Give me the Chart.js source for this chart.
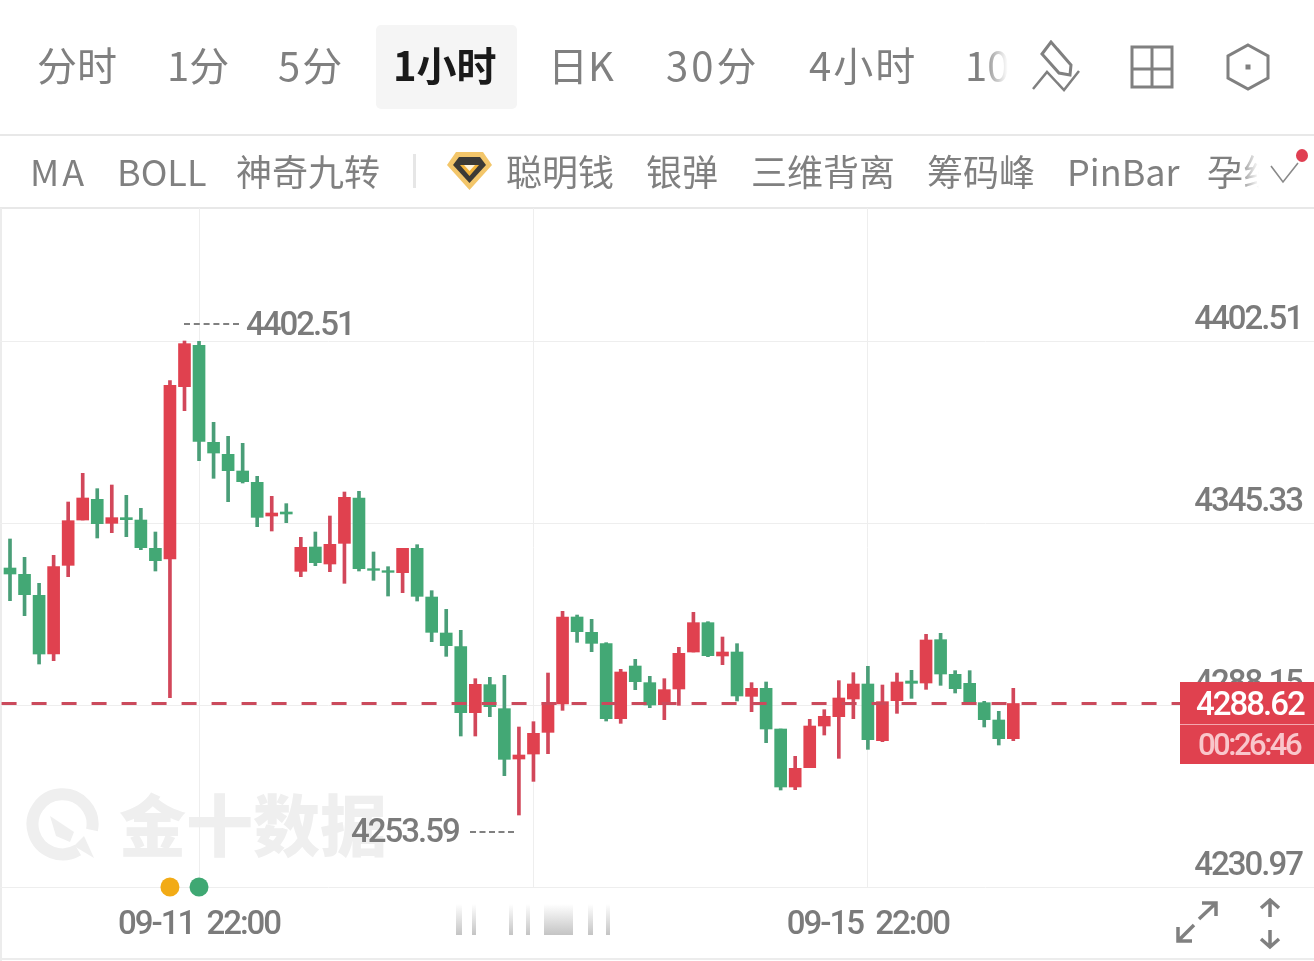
<!DOCTYPE html>
<html>
<head>
<meta charset="utf-8">
<title>1小时</title>
<script src="https://cdn.jsdelivr.net/npm/chart.js@4"></script>
<style>
    html, body { margin: 0; padding: 0; background: #fff; }
    #page { position: relative; width: 1314px; height: 961px; overflow: hidden; font-family: "Noto Sans CJK SC", sans-serif; color: #808080; }
    #page div, #page span, #page svg { position: absolute; }
    #chart { position: absolute; left: 0; top: 0; }
    .tab { top: 34px; font-size: 40px; line-height: 60px; white-space: nowrap; }
    .ind { top: 143px; font-size: 36px; line-height: 54px; white-space: nowrap; }
    .num { font-family: Roboto, sans-serif; font-weight: 500; font-size: 33px; letter-spacing: -2px; line-height: 40px; white-space: nowrap; color: #7b7b7b; }
    .blur { top: 904px; height: 31px; background: linear-gradient(to bottom, #fff, #c4c4c4); }
</style>
</head>
<body>
<div id="page">
    <!-- watermark sits under the canvas -->
    <svg style="left:26px;top:788px" width="76" height="76" viewBox="0 0 76 76">
        <path d="M52 62 A30 30 0 1 1 66 42" fill="none" stroke="#efefef" stroke-width="12"/>
        <path d="M24 28 L48 44 L44 54 L30 48 Z M48 58 L58 48 L68 70 Z" fill="#efefef"/>
    </svg>
    <div style="left:119px;top:772px;font-size:67px;line-height:100px;font-weight:900;color:#efefef;white-space:nowrap">金十数据</div>

    <div style="left:0;top:134px;width:1314px;height:2px;background:#e8e8e8"></div>
    <div style="left:0;top:207px;width:1314px;height:2px;background:#e8e8e8"></div>
    <div style="left:0;top:208px;width:2px;height:753px;background:#ececec"></div>
    <div style="left:0;top:958px;width:1314px;height:2px;background:#ececec"></div>
    <div style="left:376px;top:25px;width:141px;height:84px;background:#f5f5f5;border-radius:5px"></div>

    <canvas id="chart" width="1314" height="961"></canvas>

    <span class="tab" style="left:37px">分时</span>
    <span class="tab" style="left:167px">1分</span>
    <span class="tab" style="left:278px;letter-spacing:2px">5分</span>
    <span class="tab" style="left:393px;color:#1a1a1a;font-weight:700">1小时</span>
    <span class="tab" style="left:548px">日K</span>
    <span class="tab" style="left:666px;letter-spacing:3px">30分</span>
    <span class="tab" style="left:809px;letter-spacing:2px">4小时</span>
    <span class="tab" style="left:965px;width:43px;overflow:hidden;-webkit-mask-image:linear-gradient(to right,#000 40%,transparent)">10分</span>

    <svg style="left:1030px;top:40px" width="52" height="52" viewBox="0 0 52 52" fill="none" stroke="#808080" stroke-width="3">
        <path d="M12 14 L21 2 L41 25 L40 35 L29 33 Z"/>
        <path d="M3 49 L17 32 L34 50 L49 31" stroke-width="2.5"/>
    </svg>
    <svg style="left:1130px;top:45px" width="44" height="44" viewBox="0 0 44 44" fill="none" stroke="#808080" stroke-width="3">
        <rect x="2" y="2" width="40" height="40"/>
        <path d="M22 2 V42 M2 24 H42"/>
    </svg>
    <svg style="left:1226px;top:43px" width="44" height="48" viewBox="0 0 44 48" fill="none" stroke="#808080" stroke-width="3">
        <path d="M22 2 L42 13 V35 L22 46 L2 35 V13 Z"/>
        <rect x="19.5" y="21.5" width="5" height="5" fill="#808080" stroke="none"/>
    </svg>

    <span class="ind" style="left:30px;letter-spacing:3px">MA</span>
    <span class="ind" style="left:117px">BOLL</span>
    <span class="ind" style="left:236px">神奇九转</span>
    <div style="left:413px;top:154px;width:3px;height:34px;background:#e6e6e6"></div>
    <svg style="left:446px;top:151px" width="47" height="40" viewBox="0 0 47 40">
        <path d="M10 1 H37 L46 14 L23.5 39 L1 14 Z" fill="#f3c66a"/>
        <path d="M13 6 H34 L40 14 L23.5 32 L7 14 Z" fill="#3b3a36"/>
        <path d="M14 14 H33 L23.5 25 Z" fill="#f1b33a"/>
        <path d="M18 14 H29 L23.5 20 Z" fill="#fff6e0"/>
    </svg>
    <span class="ind" style="left:506px">聪明钱</span>
    <span class="ind" style="left:646px">银弹</span>
    <span class="ind" style="left:751px">三维背离</span>
    <span class="ind" style="left:927px">筹码峰</span>
    <span class="ind" style="left:1067px">PinBar</span>
    <span class="ind" style="left:1207px;width:52px;overflow:hidden;-webkit-mask-image:linear-gradient(to right,#000 60%,transparent)">孕线</span>
    <svg style="left:1268px;top:160px" width="34" height="26" viewBox="0 0 34 26" fill="none" stroke="#8a8a8a" stroke-width="1.6">
        <path d="M3 6 L15 22 L30 3"/>
    </svg>
    <div style="left:1296px;top:149px;width:12px;height:13px;border-radius:50%;background:#e03f52"></div>

    <span class="num" style="left:246px;top:304px">4402.51</span>
    <div style="left:184px;top:323px;width:55px;height:0;border-top:2px dashed #808080"></div>
    <span class="num" style="left:351px;top:811px">4253.59</span>
    <div style="left:470px;top:831px;width:44px;height:0;border-top:2px dashed #808080"></div>

    <div class="blur" style="left:456px;width:6px"></div>
    <div class="blur" style="left:472px;width:4px"></div>
    <div class="blur" style="left:509px;width:4px"></div>
    <div class="blur" style="left:526px;width:4px"></div>
    <div class="blur" style="left:544px;width:29px"></div>
    <div class="blur" style="left:588px;width:5px"></div>
    <div class="blur" style="left:606px;width:4px"></div>

    <div style="left:1180px;top:682px;width:134px;height:82px;background:#e0414f"></div>
    <div style="left:1180px;top:724px;width:134px;height:1px;background:#f3a6ae"></div>
    <span class="num" style="left:1196px;top:684px;color:#fff">4288.62</span>
    <span class="num" style="left:1198px;top:725px;color:#f9c6cb;font-size:31px;letter-spacing:-2.5px">00:26:46</span>

    <svg style="left:1174px;top:899px" width="46" height="46" viewBox="0 0 46 46" fill="none" stroke="#808080" stroke-width="3.5">
        <path d="M25 20 L42 4 M28 4 H42 V17"/>
        <path d="M20 26 L4 42 M4 28 V42 H18"/>
    </svg>
    <svg style="left:1258px;top:897px" width="24" height="54" viewBox="0 0 24 54" fill="none" stroke="#808080" stroke-width="3.5">
        <path d="M12 3 V20 M3 11 L12 3 L21 11"/>
        <path d="M12 33 V50 M3 42 L12 50 L21 42"/>
    </svg>
</div>

<script>
var opens = [4331.19, 4329.20, 4322.60, 4304.17, 4332.03, 4346.27, 4352.77, 4345.23, 4347.01, 4346.27,
    4337.37, 4334.02, 4388.17, 4401.15, 4370.68, 4366.91, 4361.67, 4358.11, 4347.53, 4348.79,
    4330.15, 4337.79, 4332.45, 4338.94, 4353.18, 4330.98, 4330.35, 4329.73, 4337.37, 4322.08,
    4310.77, 4306.47, 4285.74, 4294.54, 4287.00, 4271.18, 4272.75, 4279.56, 4288.46, 4315.80,
    4310.98, 4307.42, 4283.85, 4300.40, 4295.17, 4288.26, 4293.18, 4304.80, 4314.02, 4303.55,
    4304.80, 4290.87, 4293.39, 4280.61, 4262.39, 4268.46, 4281.55, 4284.48, 4290.04, 4294.75,
    4276.94, 4289.51, 4295.69, 4295.06, 4308.68, 4297.79, 4294.96, 4288.88, 4283.44, 4277.57];
var highs = [4340.31, 4334.55, 4326.38, 4335.17, 4351.93, 4360.94, 4356.12, 4357.27, 4354.02, 4349.94,
    4342.50, 4390.05, 4402.51, 4402.40, 4376.96, 4372.56, 4370.36, 4359.99, 4353.71, 4351.41,
    4340.83, 4342.50, 4347.53, 4355.07, 4355.28, 4336.22, 4331.61, 4337.37, 4338.52, 4324.07,
    4318.20, 4311.61, 4296.42, 4296.84, 4297.47, 4281.24, 4282.91, 4298.20, 4317.58, 4316.42,
    4315.06, 4307.73, 4299.35, 4302.50, 4297.16, 4296.42, 4306.27, 4317.26, 4314.33, 4309.51,
    4307.42, 4295.17, 4295.38, 4280.61, 4272.02, 4283.65, 4286.68, 4295.80, 4298.31, 4300.30,
    4294.43, 4298.20, 4299.04, 4310.35, 4310.67, 4298.94, 4298.94, 4289.30, 4286.16, 4293.39];
var lows = [4320.93, 4316.22, 4301.03, 4302.08, 4328.47, 4346.27, 4340.62, 4342.29, 4341.04, 4336.95,
    4330.25, 4290.45, 4380.63, 4364.92, 4359.37, 4352.03, 4357.90, 4344.18, 4342.82, 4345.44,
    4328.47, 4331.93, 4330.04, 4326.38, 4330.25, 4327.32, 4322.39, 4323.44, 4320.82, 4308.05,
    4303.44, 4278.41, 4278.41, 4284.48, 4265.94, 4253.59, 4264.16, 4272.86, 4286.47, 4307.84,
    4304.90, 4283.12, 4282.39, 4292.97, 4287.31, 4283.54, 4288.05, 4304.80, 4303.34, 4300.82,
    4289.41, 4286.06, 4276.32, 4261.44, 4261.55, 4268.46, 4278.72, 4271.39, 4283.86, 4274.22,
    4276.63, 4285.53, 4290.24, 4293.07, 4294.33, 4291.92, 4288.67, 4281.24, 4275.58, 4276.94];
var closes = [4329.31, 4322.81, 4304.17, 4331.61, 4346.06, 4353.19, 4345.12, 4347.01, 4346.38, 4337.58,
    4333.50, 4388.58, 4401.68, 4370.99, 4367.32, 4361.77, 4358.32, 4347.11, 4348.47, 4348.16,
    4337.69, 4332.87, 4338.63, 4353.40, 4330.98, 4330.46, 4329.83, 4337.37, 4322.29, 4310.98,
    4306.79, 4285.74, 4294.64, 4287.62, 4271.08, 4272.44, 4279.25, 4288.98, 4315.80, 4311.19,
    4307.52, 4283.85, 4298.52, 4295.48, 4288.15, 4292.97, 4304.38, 4314.02, 4303.65, 4304.80,
    4290.98, 4293.39, 4280.61, 4262.39, 4268.25, 4281.55, 4284.59, 4290.35, 4294.75, 4277.26,
    4289.20, 4295.38, 4294.96, 4308.57, 4297.89, 4293.28, 4289.09, 4283.54, 4277.57, 4288.62];

var priceTicks = [4230.97, 4288.15, 4345.33, 4402.51];
var timeTicks = [13, 36, 59];
var timeLabels = ['09-11 22:00', '', '09-15 22:00'];
var lastPrice = 4288.62;
var markerSlots = [11, 13];
var markerColors = ['#f2ab16', '#3fa873'];

var UP = '#e0414f';
var DOWN = '#43a875';
var UP_WICK = '#d2475a';
var DOWN_WICK = '#4a9e78';
var candleColors = closes.map((c, i) => c >= opens[i] ? UP : DOWN);
var wickColors = closes.map((c, i) => c >= opens[i] ? UP_WICK : DOWN_WICK);

// no condensed font on the box, tighten the axis digits instead
var tightText = {
    id: 'tightText',
    beforeDraw(chart) {
        chart.ctx.letterSpacing = '-2px';
        chart.ctx.wordSpacing = '6px';
    }
};

new Chart(document.getElementById('chart'), {
    type: 'bar',
    plugins: [tightText],
    data: {
        datasets: [
            {
                type: 'line',
                data: [{ x: -0.58, y: lastPrice }, { x: 80.47, y: lastPrice }],
                borderColor: '#cb4a5c',
                borderWidth: 3,
                borderDash: [15, 15],
                pointRadius: 0,
                order: 1
            },
            {
                type: 'line',
                data: markerSlots.map(s => ({ x: s, y: priceTicks[0] })),
                showLine: false,
                pointRadius: 9.5,
                pointBackgroundColor: markerColors,
                pointBorderWidth: 0,
                clip: false,
                order: 0
            },
            {
                data: closes.map((c, i) => ({ x: i, y: [opens[i], c] })),
                backgroundColor: candleColors,
                barThickness: 12,
                grouped: false,
                order: 2
            },
            {
                data: closes.map((c, i) => ({ x: i, y: [lows[i], highs[i]] })),
                backgroundColor: wickColors,
                barThickness: 3,
                grouped: false,
                order: 3
            }
        ]
    },
    options: {
        responsive: false,
        animation: false,
        layout: { autoPadding: false, padding: { top: 208, left: 0, right: 0, bottom: 0 } },
        plugins: {
            legend: { display: false },
            tooltip: { enabled: false }
        },
        scales: {
            x: {
                type: 'linear',
                offset: false,
                min: -0.688,
                max: 89.68,
                afterBuildTicks: (axis) => { axis.ticks = timeTicks.map(v => ({ value: v })); },
                afterFit: (axis) => {
                    axis.height = 74;
                    axis.paddingLeft = 0;
                    axis.paddingRight = 0;
                },
                grid: { color: '#eeeeee', lineWidth: 1, offset: false, drawTicks: false },
                border: { display: false },
                ticks: {
                    autoSkip: false,
                    maxRotation: 0,
                    padding: 19,
                    color: '#7b7b7b',
                    font: { family: 'Roboto', weight: '500', size: 33 },
                    callback: (v) => timeLabels[timeTicks.indexOf(v)]
                }
            },
            y: {
                position: 'right',
                min: 4230.97,
                max: 4444.30,
                afterBuildTicks: (axis) => { axis.ticks = priceTicks.map(v => ({ value: v })); },
                afterFit: (axis) => {
                    axis.paddingTop = 0;
                    axis.paddingBottom = 0;
                },
                grid: { color: '#eeeeee', lineWidth: 1, drawTicks: false },
                border: { display: false },
                ticks: {
                    mirror: true,
                    padding: -12,
                    color: '#7b7b7b',
                    font: { family: 'Roboto', weight: '500', size: 33, lineHeight: '40px' },
                    // empty second line lifts the label above its grid line
                    callback: (v) => [v.toFixed(2), '']
                }
            }
        }
    }
});
</script>
</body>
</html>
